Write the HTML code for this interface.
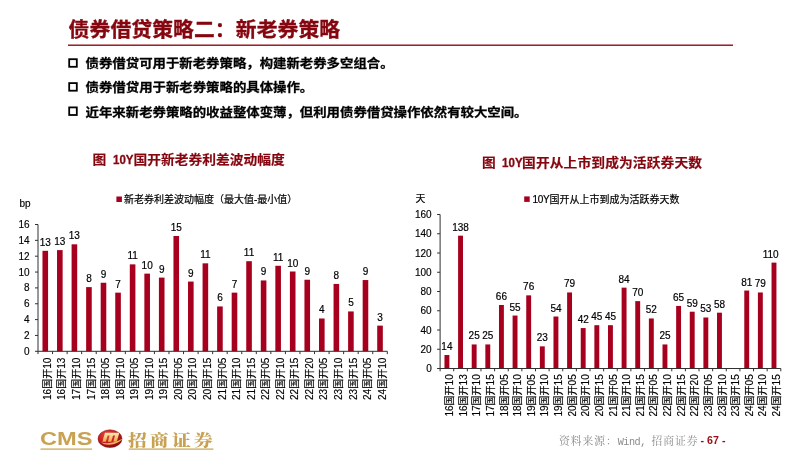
<!DOCTYPE html>
<html lang="zh-CN">
<head>
<meta charset="utf-8">
<title>债券借贷策略二：新老券策略</title>
<style>
html,body{margin:0;padding:0;background:#fff;}
body{width:800px;height:450px;position:relative;overflow:hidden;font-family:"Liberation Sans", "Noto Sans CJK SC", sans-serif;color:#111;}
#slide{position:absolute;left:0;top:0;width:800px;height:450px;overflow:hidden;background:#fff;will-change:transform;}
.abs{position:absolute;white-space:nowrap;}
h1{position:absolute;margin:0;left:68.6px;top:12.6px;font:bold 20.8px/30px "Noto Sans CJK SC", "Liberation Sans", sans-serif;color:#85060f;white-space:nowrap;letter-spacing:.1px;-webkit-text-stroke:.35px #85060f;transform:scaleY(.96);transform-origin:0 50%;}
ul{position:absolute;left:0;top:0;margin:0;padding:0;list-style:none;}
li{position:absolute;left:85.6px;height:24px;font:bold 13.4px/24px "Noto Sans CJK SC", "Liberation Sans", sans-serif;color:#000;white-space:nowrap;transform:scaleY(.9);transform-origin:0 50%;-webkit-text-stroke:.3px #000;}
.ct{font:bold 13.75px/20px "Noto Sans CJK SC", "Liberation Sans", sans-serif;color:#85060f;transform:scaleY(.92);transform-origin:0 50%;-webkit-text-stroke:.2px #85060f;}
.ct b{display:inline-block;transform:scaleX(.84);-webkit-text-stroke:.35px #85060f;transform-origin:0 50%;font-weight:bold;font-family:"Liberation Sans",sans-serif;margin-left:3.4px;}
.lg{font:10px/14px "Liberation Sans", "Noto Sans CJK SC", sans-serif;color:#000;-webkit-text-stroke:.2px #000;}
svg{position:absolute;left:0;top:0;}
svg text{font-family:"Liberation Sans", "Noto Sans CJK SC", sans-serif;font-size:10px;fill:#000;stroke:#000;stroke-width:.15px;}
svg text.d{font-size:10px;stroke-width:.18px;}
.src{font:10.8px/14px "Noto Serif CJK SC","Liberation Serif",serif;color:#8a8a8a;letter-spacing:.95px;}
.src span{font-family:"Liberation Mono",monospace;font-size:10.2px;letter-spacing:-.5px;}
.pg{font:bold 10.67px/14px "Liberation Sans",sans-serif;color:#980e18;}
.cms{font:bold 17.8px/20px "Liberation Sans",sans-serif;color:#c8a252;transform:scaleX(1.33);transform-origin:0 50%;}
.zs{font:900 16.6px/20px "Noto Serif CJK SC",serif;color:#c8a252;letter-spacing:2.9px;transform:scale(1.13,.93);transform-origin:0 50%;}
</style>
</head>
<body>
<div id="slide">
<h1>债券借贷策略二：新老券策略</h1>
<ul>
<li style="top:51.3px">债券借贷可用于新老券策略，构建新老券多空组合。</li>
<li style="top:75.2px">债券借贷用于新老券策略的具体操作。</li>
<li style="top:99.5px">近年来新老券策略的收益整体变薄，但利用债券借贷操作依然有较大空间。</li>
</ul>
<div class="abs ct" style="left:92.6px;top:147.6px">图 <b style="width:20.6px">10Y</b>国开新老券利差波动幅度</div>
<div class="abs ct" style="left:482px;top:151.3px;letter-spacing:.1px">图 <b style="width:19.6px">10Y</b>国开从上市到成为活跃券天数</div>
<div class="abs lg" style="left:124px;top:193.1px">新老券利差波动幅度（最大值-最小值）</div>
<div class="abs lg" style="left:531.8px;top:193.3px"><span style="letter-spacing:-.3px;margin-left:.8px">10Y</span>国开从上市到成为活跃券天数</div>
<svg width="800" height="450" viewBox="0 0 800 450">
<rect x="68" y="44.5" width="665" height="1.4" fill="#920c14"/>
<rect x="116.4" y="196.5" width="5.5" height="5.5" fill="#a6001e"/>
<rect x="524.2" y="196.4" width="5.5" height="5.5" fill="#a6001e"/>
<rect x="40.5" y="448.3" width="51.6" height="1.7" fill="#d9be7c"/>
<rect x="128.8" y="448.3" width="84.6" height="1.7" fill="#d9be7c"/>
<g fill="none" stroke="#000" stroke-width="1.8"><rect x="69.2" y="59.2" width="7.6" height="7.6"/><rect x="69.2" y="83.1" width="7.6" height="7.6"/><rect x="69.2" y="107.4" width="7.6" height="7.6"/></g>
<text x="19.4" y="207.4">bp</text>
<text x="415.5" y="201.8">天</text>
<rect x="42.48" y="250.81" width="5.6" height="100.49" fill="#a6001e"/>
<rect x="57.03" y="250.1" width="5.6" height="101.2" fill="#a6001e"/>
<rect x="71.59" y="244.31" width="5.6" height="106.99" fill="#a6001e"/>
<rect x="86.14" y="287.11" width="5.6" height="64.19" fill="#a6001e"/>
<rect x="100.69" y="282.75" width="5.6" height="68.55" fill="#a6001e"/>
<rect x="115.25" y="292.65" width="5.6" height="58.65" fill="#a6001e"/>
<rect x="129.8" y="264.36" width="5.6" height="86.94" fill="#a6001e"/>
<rect x="144.36" y="273.63" width="5.6" height="77.67" fill="#a6001e"/>
<rect x="158.91" y="277.6" width="5.6" height="73.7" fill="#a6001e"/>
<rect x="173.46" y="235.99" width="5.6" height="115.31" fill="#a6001e"/>
<rect x="188.02" y="281.56" width="5.6" height="69.74" fill="#a6001e"/>
<rect x="202.57" y="263.33" width="5.6" height="87.97" fill="#a6001e"/>
<rect x="217.13" y="306.44" width="5.6" height="44.86" fill="#a6001e"/>
<rect x="231.68" y="292.65" width="5.6" height="58.65" fill="#a6001e"/>
<rect x="246.24" y="261.19" width="5.6" height="90.11" fill="#a6001e"/>
<rect x="260.79" y="280.45" width="5.6" height="70.85" fill="#a6001e"/>
<rect x="275.34" y="265.79" width="5.6" height="85.51" fill="#a6001e"/>
<rect x="289.9" y="271.5" width="5.6" height="79.8" fill="#a6001e"/>
<rect x="304.45" y="279.74" width="5.6" height="71.56" fill="#a6001e"/>
<rect x="319.01" y="318.49" width="5.6" height="32.81" fill="#a6001e"/>
<rect x="333.56" y="283.94" width="5.6" height="67.36" fill="#a6001e"/>
<rect x="348.11" y="311.44" width="5.6" height="39.86" fill="#a6001e"/>
<rect x="362.67" y="280.05" width="5.6" height="71.25" fill="#a6001e"/>
<rect x="377.22" y="325.62" width="5.6" height="25.68" fill="#a6001e"/>
<path d="M38 224.5V351.3H387.3" fill="none" stroke="#303030" stroke-width="1"/>
<path d="M35 351.3h3M35 335.45h3M35 319.6h3M35 303.75h3M35 287.9h3M35 272.05h3M35 256.2h3M35 240.35h3M35 224.5h3M38 351.3v2.8M52.55 351.3v2.8M67.11 351.3v2.8M81.66 351.3v2.8M96.22 351.3v2.8M110.77 351.3v2.8M125.33 351.3v2.8M139.88 351.3v2.8M154.43 351.3v2.8M168.99 351.3v2.8M183.54 351.3v2.8M198.1 351.3v2.8M212.65 351.3v2.8M227.2 351.3v2.8M241.76 351.3v2.8M256.31 351.3v2.8M270.87 351.3v2.8M285.42 351.3v2.8M299.98 351.3v2.8M314.53 351.3v2.8M329.08 351.3v2.8M343.64 351.3v2.8M358.19 351.3v2.8M372.75 351.3v2.8M387.3 351.3v2.8" fill="none" stroke="#303030" stroke-width="1"/>
<text class="y" x="29.5" y="354.8" text-anchor="end">0</text>
<text class="y" x="29.5" y="338.95" text-anchor="end">2</text>
<text class="y" x="29.5" y="323.1" text-anchor="end">4</text>
<text class="y" x="29.5" y="307.25" text-anchor="end">6</text>
<text class="y" x="29.5" y="291.4" text-anchor="end">8</text>
<text class="y" x="29.5" y="275.55" text-anchor="end">10</text>
<text class="y" x="29.5" y="259.7" text-anchor="end">12</text>
<text class="y" x="29.5" y="243.85" text-anchor="end">14</text>
<text class="y" x="29.5" y="228" text-anchor="end">16</text>
<text class="d" x="45.28" y="245.81" text-anchor="middle">13</text>
<text class="d" x="59.83" y="245.1" text-anchor="middle">13</text>
<text class="d" x="74.39" y="239.31" text-anchor="middle">13</text>
<text class="d" x="88.94" y="282.11" text-anchor="middle">8</text>
<text class="d" x="103.49" y="277.75" text-anchor="middle">9</text>
<text class="d" x="118.05" y="287.65" text-anchor="middle">7</text>
<text class="d" x="132.6" y="259.36" text-anchor="middle">11</text>
<text class="d" x="147.16" y="268.63" text-anchor="middle">10</text>
<text class="d" x="161.71" y="272.6" text-anchor="middle">9</text>
<text class="d" x="176.26" y="230.99" text-anchor="middle">15</text>
<text class="d" x="190.82" y="276.56" text-anchor="middle">9</text>
<text class="d" x="205.37" y="258.33" text-anchor="middle">11</text>
<text class="d" x="219.93" y="301.44" text-anchor="middle">6</text>
<text class="d" x="234.48" y="287.65" text-anchor="middle">7</text>
<text class="d" x="249.04" y="256.19" text-anchor="middle">11</text>
<text class="d" x="263.59" y="275.45" text-anchor="middle">9</text>
<text class="d" x="278.14" y="260.79" text-anchor="middle">11</text>
<text class="d" x="292.7" y="266.5" text-anchor="middle">10</text>
<text class="d" x="307.25" y="274.74" text-anchor="middle">9</text>
<text class="d" x="321.81" y="313.49" text-anchor="middle">4</text>
<text class="d" x="336.36" y="278.94" text-anchor="middle">8</text>
<text class="d" x="350.91" y="306.44" text-anchor="middle">5</text>
<text class="d" x="365.47" y="275.05" text-anchor="middle">9</text>
<text class="d" x="380.02" y="320.62" text-anchor="middle">3</text>
<text transform="translate(50.88 357.7) rotate(-90)" text-anchor="end">16国开10</text>
<text transform="translate(65.43 357.7) rotate(-90)" text-anchor="end">16国开13</text>
<text transform="translate(79.99 357.7) rotate(-90)" text-anchor="end">17国开10</text>
<text transform="translate(94.54 357.7) rotate(-90)" text-anchor="end">17国开15</text>
<text transform="translate(109.09 357.7) rotate(-90)" text-anchor="end">18国开05</text>
<text transform="translate(123.65 357.7) rotate(-90)" text-anchor="end">18国开10</text>
<text transform="translate(138.2 357.7) rotate(-90)" text-anchor="end">19国开05</text>
<text transform="translate(152.76 357.7) rotate(-90)" text-anchor="end">19国开10</text>
<text transform="translate(167.31 357.7) rotate(-90)" text-anchor="end">19国开15</text>
<text transform="translate(181.86 357.7) rotate(-90)" text-anchor="end">20国开05</text>
<text transform="translate(196.42 357.7) rotate(-90)" text-anchor="end">20国开10</text>
<text transform="translate(210.97 357.7) rotate(-90)" text-anchor="end">20国开15</text>
<text transform="translate(225.53 357.7) rotate(-90)" text-anchor="end">21国开05</text>
<text transform="translate(240.08 357.7) rotate(-90)" text-anchor="end">21国开10</text>
<text transform="translate(254.64 357.7) rotate(-90)" text-anchor="end">21国开15</text>
<text transform="translate(269.19 357.7) rotate(-90)" text-anchor="end">22国开05</text>
<text transform="translate(283.74 357.7) rotate(-90)" text-anchor="end">22国开10</text>
<text transform="translate(298.3 357.7) rotate(-90)" text-anchor="end">22国开15</text>
<text transform="translate(312.85 357.7) rotate(-90)" text-anchor="end">22国开20</text>
<text transform="translate(327.41 357.7) rotate(-90)" text-anchor="end">23国开05</text>
<text transform="translate(341.96 357.7) rotate(-90)" text-anchor="end">23国开10</text>
<text transform="translate(356.51 357.7) rotate(-90)" text-anchor="end">23国开15</text>
<text transform="translate(371.07 357.7) rotate(-90)" text-anchor="end">24国开05</text>
<text transform="translate(385.62 357.7) rotate(-90)" text-anchor="end">24国开10</text>
<rect x="444.46" y="355.02" width="4.9" height="13.48" fill="#a6001e"/>
<rect x="458.09" y="235.67" width="4.9" height="132.83" fill="#a6001e"/>
<rect x="471.72" y="344.44" width="4.9" height="24.06" fill="#a6001e"/>
<rect x="485.35" y="344.44" width="4.9" height="24.06" fill="#a6001e"/>
<rect x="498.98" y="304.98" width="4.9" height="63.52" fill="#a6001e"/>
<rect x="512.6" y="315.56" width="4.9" height="52.94" fill="#a6001e"/>
<rect x="526.23" y="295.35" width="4.9" height="73.15" fill="#a6001e"/>
<rect x="539.86" y="346.36" width="4.9" height="22.14" fill="#a6001e"/>
<rect x="553.49" y="316.52" width="4.9" height="51.98" fill="#a6001e"/>
<rect x="567.12" y="292.46" width="4.9" height="76.04" fill="#a6001e"/>
<rect x="580.74" y="328.07" width="4.9" height="40.43" fill="#a6001e"/>
<rect x="594.37" y="325.19" width="4.9" height="43.31" fill="#a6001e"/>
<rect x="608" y="325.19" width="4.9" height="43.31" fill="#a6001e"/>
<rect x="621.63" y="287.65" width="4.9" height="80.85" fill="#a6001e"/>
<rect x="635.26" y="301.12" width="4.9" height="67.38" fill="#a6001e"/>
<rect x="648.88" y="318.45" width="4.9" height="50.05" fill="#a6001e"/>
<rect x="662.51" y="344.44" width="4.9" height="24.06" fill="#a6001e"/>
<rect x="676.14" y="305.94" width="4.9" height="62.56" fill="#a6001e"/>
<rect x="689.77" y="311.71" width="4.9" height="56.79" fill="#a6001e"/>
<rect x="703.4" y="317.49" width="4.9" height="51.01" fill="#a6001e"/>
<rect x="717.02" y="312.68" width="4.9" height="55.82" fill="#a6001e"/>
<rect x="744.28" y="290.54" width="4.9" height="77.96" fill="#a6001e"/>
<rect x="757.91" y="292.46" width="4.9" height="76.04" fill="#a6001e"/>
<rect x="771.54" y="262.62" width="4.9" height="105.88" fill="#a6001e"/>
<path d="M440.1 214.5V368.5H780.8" fill="none" stroke="#303030" stroke-width="1"/>
<path d="M437.1 368.5h3M437.1 349.25h3M437.1 330h3M437.1 310.75h3M437.1 291.5h3M437.1 272.25h3M437.1 253h3M437.1 233.75h3M437.1 214.5h3M440.1 368.5v2.8M453.73 368.5v2.8M467.36 368.5v2.8M480.98 368.5v2.8M494.61 368.5v2.8M508.24 368.5v2.8M521.87 368.5v2.8M535.5 368.5v2.8M549.12 368.5v2.8M562.75 368.5v2.8M576.38 368.5v2.8M590.01 368.5v2.8M603.64 368.5v2.8M617.26 368.5v2.8M630.89 368.5v2.8M644.52 368.5v2.8M658.15 368.5v2.8M671.78 368.5v2.8M685.4 368.5v2.8M699.03 368.5v2.8M712.66 368.5v2.8M726.29 368.5v2.8M739.92 368.5v2.8M753.54 368.5v2.8M767.17 368.5v2.8M780.8 368.5v2.8" fill="none" stroke="#303030" stroke-width="1"/>
<text class="y" x="431.7" y="372" text-anchor="end">0</text>
<text class="y" x="431.7" y="352.75" text-anchor="end">20</text>
<text class="y" x="431.7" y="333.5" text-anchor="end">40</text>
<text class="y" x="431.7" y="314.25" text-anchor="end">60</text>
<text class="y" x="431.7" y="295" text-anchor="end">80</text>
<text class="y" x="431.7" y="275.75" text-anchor="end">100</text>
<text class="y" x="431.7" y="256.5" text-anchor="end">120</text>
<text class="y" x="431.7" y="237.25" text-anchor="end">140</text>
<text class="y" x="431.7" y="218" text-anchor="end">160</text>
<text class="d" x="446.91" y="350.02" text-anchor="middle">14</text>
<text class="d" x="460.54" y="230.67" text-anchor="middle">138</text>
<text class="d" x="474.17" y="339.44" text-anchor="middle">25</text>
<text class="d" x="487.8" y="339.44" text-anchor="middle">25</text>
<text class="d" x="501.43" y="299.98" text-anchor="middle">66</text>
<text class="d" x="515.05" y="310.56" text-anchor="middle">55</text>
<text class="d" x="528.68" y="290.35" text-anchor="middle">76</text>
<text class="d" x="542.31" y="341.36" text-anchor="middle">23</text>
<text class="d" x="555.94" y="311.52" text-anchor="middle">54</text>
<text class="d" x="569.57" y="287.46" text-anchor="middle">79</text>
<text class="d" x="583.19" y="323.07" text-anchor="middle">42</text>
<text class="d" x="596.82" y="320.19" text-anchor="middle">45</text>
<text class="d" x="610.45" y="320.19" text-anchor="middle">45</text>
<text class="d" x="624.08" y="282.65" text-anchor="middle">84</text>
<text class="d" x="637.71" y="296.12" text-anchor="middle">70</text>
<text class="d" x="651.33" y="313.45" text-anchor="middle">52</text>
<text class="d" x="664.96" y="339.44" text-anchor="middle">25</text>
<text class="d" x="678.59" y="300.94" text-anchor="middle">65</text>
<text class="d" x="692.22" y="306.71" text-anchor="middle">59</text>
<text class="d" x="705.85" y="312.49" text-anchor="middle">53</text>
<text class="d" x="719.47" y="307.68" text-anchor="middle">58</text>
<text class="d" x="746.73" y="285.54" text-anchor="middle">81</text>
<text class="d" x="760.36" y="287.46" text-anchor="middle">79</text>
<text class="d" x="770.69" y="257.62" text-anchor="middle">110</text>
<text transform="translate(453.01 374.3) rotate(-90)" text-anchor="end">16国开10</text>
<text transform="translate(466.64 374.3) rotate(-90)" text-anchor="end">16国开13</text>
<text transform="translate(480.27 374.3) rotate(-90)" text-anchor="end">17国开10</text>
<text transform="translate(493.9 374.3) rotate(-90)" text-anchor="end">17国开15</text>
<text transform="translate(507.53 374.3) rotate(-90)" text-anchor="end">18国开05</text>
<text transform="translate(521.15 374.3) rotate(-90)" text-anchor="end">18国开10</text>
<text transform="translate(534.78 374.3) rotate(-90)" text-anchor="end">19国开05</text>
<text transform="translate(548.41 374.3) rotate(-90)" text-anchor="end">19国开10</text>
<text transform="translate(562.04 374.3) rotate(-90)" text-anchor="end">19国开15</text>
<text transform="translate(575.67 374.3) rotate(-90)" text-anchor="end">20国开05</text>
<text transform="translate(589.29 374.3) rotate(-90)" text-anchor="end">20国开10</text>
<text transform="translate(602.92 374.3) rotate(-90)" text-anchor="end">20国开15</text>
<text transform="translate(616.55 374.3) rotate(-90)" text-anchor="end">21国开05</text>
<text transform="translate(630.18 374.3) rotate(-90)" text-anchor="end">21国开10</text>
<text transform="translate(643.81 374.3) rotate(-90)" text-anchor="end">21国开15</text>
<text transform="translate(657.43 374.3) rotate(-90)" text-anchor="end">22国开05</text>
<text transform="translate(671.06 374.3) rotate(-90)" text-anchor="end">22国开10</text>
<text transform="translate(684.69 374.3) rotate(-90)" text-anchor="end">22国开15</text>
<text transform="translate(698.32 374.3) rotate(-90)" text-anchor="end">22国开20</text>
<text transform="translate(711.95 374.3) rotate(-90)" text-anchor="end">23国开05</text>
<text transform="translate(725.57 374.3) rotate(-90)" text-anchor="end">23国开10</text>
<text transform="translate(739.2 374.3) rotate(-90)" text-anchor="end">23国开15</text>
<text transform="translate(752.83 374.3) rotate(-90)" text-anchor="end">24国开05</text>
<text transform="translate(766.46 374.3) rotate(-90)" text-anchor="end">24国开10</text>
<text transform="translate(780.09 374.3) rotate(-90)" text-anchor="end">24国开15</text>
</svg>
<div class="abs cms" style="left:40.1px;top:429.3px">CMS</div>
<svg width="30" height="22" viewBox="0 0 30 22" style="left:94.7px;top:427.9px">
<defs><radialGradient id="g" cx="38%" cy="30%" r="75%"><stop offset="0" stop-color="#ea4a3c"/><stop offset=".55" stop-color="#c41d22"/><stop offset="1" stop-color="#7a0b10"/></radialGradient>
<linearGradient id="m" x1="0" y1="0" x2="0" y2="1"><stop offset="0" stop-color="#fbeeb8"/><stop offset="1" stop-color="#f0a545"/></linearGradient></defs>
<ellipse cx="15" cy="10.700" rx="12" ry="8.900" fill="url(#g)" stroke="#8a1015" stroke-width=".5"/>
<g transform="translate(15 10.400) scale(1.12) translate(-15 -10.400)">
<path d="M10.5 5.3H23.300L21 13.300H17.900L19.500 7.700H17.700L16.100 13.300H13.100L14.700 7.700H12.900L11.300 13.300H8.200Z" fill="url(#m)"/>
<path d="M6.600 13.900C12 15.700 20 14.700 26.200 10.600C22 16.400 12 17.900 6.600 13.900Z" fill="#f3b457"/>
</g>
</svg>
<div class="abs zs" style="left:128.4px;top:429.4px">招商证券</div>
<div class="abs src" style="left:559px;top:433.6px">资料来源：<span>Wind, </span>招商证券</div>
<div class="abs pg" style="left:700.6px;top:433.4px">- 67 -</div>
</div>
</body>
</html>
